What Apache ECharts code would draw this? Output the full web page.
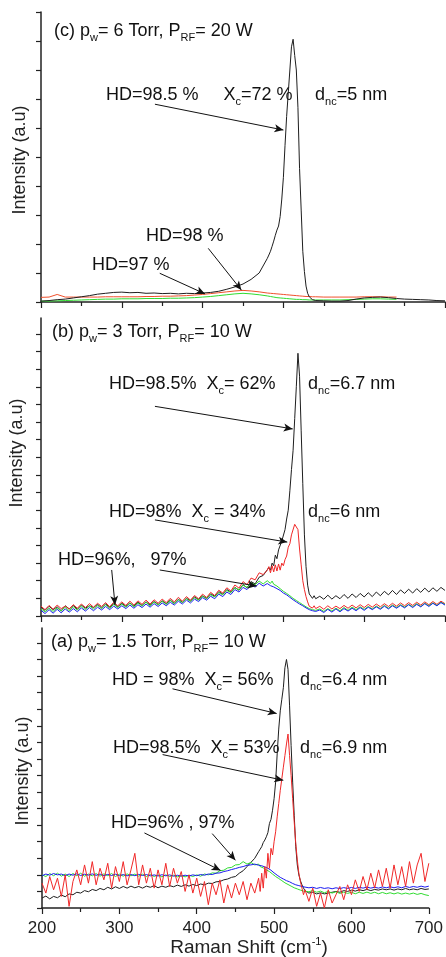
<!DOCTYPE html>
<html>
<head>
<meta charset="utf-8">
<script src="https://cdn.jsdelivr.net/npm/echarts@6/dist/echarts.min.js"></script>
<style>
html, body { margin: 0; padding: 0; background: #fff; }
#chart { width: 446px; height: 957px; }
</style>
</head>
<body>
<div id="chart"></div>
<script>
// Raman shift sampling (cm-1) for panels (b) and (a)
const xAB = [
    200, 205, 210, 215, 220, 225, 230, 235, 240, 245, 250, 255, 260, 265, 270, 275, 280, 285, 290, 295,
    300, 305, 310, 315, 320, 325, 330, 335, 340, 345, 350, 355, 360, 365, 370, 375, 380, 385, 390, 395,
    400, 405, 410, 415, 420, 425, 430, 435, 440, 445, 450, 455, 460, 465, 470, 475, 480,
    482, 484, 486, 488, 490, 492, 494, 496, 498, 500, 502, 504, 506, 508, 510, 512, 514, 516, 518, 520,
    522, 524, 526, 528, 530, 532, 534, 536, 538, 540,
    545, 550, 555, 560, 565, 570, 575, 580, 585, 590, 595, 600, 605, 610, 615, 620, 625, 630, 635, 640,
    645, 650, 655, 660, 665, 670, 675, 680, 685, 690, 695, 700
];
// sampling for panel (c), smoother curves
const xC = [
    200, 210, 220, 230, 240, 250, 260, 270, 280, 290, 300, 310, 320, 330, 340, 350, 360, 370, 380, 390,
    400, 410, 420, 430, 440, 450, 460, 470, 480,
    482, 484, 486, 488, 490, 492, 494, 496, 498, 500, 502, 504, 506, 508, 510, 512, 514, 516, 518, 520,
    522, 524, 526, 528, 530, 532, 534, 536, 538, 540,
    550, 560, 570, 580, 590, 600, 610, 620, 630, 640, 650, 660, 670, 680, 690, 700
];

// (c) pw = 6 Torr
const cBlack = [
    0.03, 0.05, 0.08, 0.10, 0.14, 0.18, 0.22, 0.27, 0.30, 0.33, 0.34, 0.32, 0.33, 0.30, 0.31, 0.29, 0.30, 0.28, 0.30, 0.29,
    0.31, 0.33, 0.37, 0.44, 0.52, 0.62, 0.78, 1.00, 1.50,
    1.62, 1.75, 1.92, 2.10, 2.30, 2.48, 2.62, 2.95, 3.55, 4.30, 5.40, 6.40, 7.20, 8.00, 8.80, 9.06, 8.50, 8.00, 6.70, 4.60,
    3.17, 1.75, 1.05, 0.55, 0.30, 0.18, 0.12, 0.08, 0.06, 0.05,
    0.04, 0.03, 0.03, 0.05, 0.10, 0.14, 0.16, 0.17, 0.15, 0.12, 0.10, 0.09, 0.08, 0.07, 0.05, 0.04
];
const cRed = [
    0.16, 0.17, 0.26, 0.17, 0.17, 0.17, 0.17, 0.17, 0.18, 0.18, 0.18, 0.18, 0.18, 0.19, 0.19, 0.20, 0.20, 0.21, 0.22, 0.24,
    0.26, 0.29, 0.32, 0.35, 0.38, 0.40, 0.38, 0.35, 0.31,
    0.30, 0.30, 0.29, 0.29, 0.28, 0.28, 0.27, 0.27, 0.26, 0.26, 0.25, 0.25, 0.24, 0.24, 0.23, 0.23, 0.22, 0.22, 0.21, 0.21,
    0.20, 0.20, 0.20, 0.19, 0.19, 0.19, 0.18, 0.18, 0.18, 0.18,
    0.17, 0.17, 0.17, 0.17, 0.17, 0.18, 0.18, 0.18, 0.17, 0.17
];
const cGreen = [
    0.03, 0.03, 0.04, 0.05, 0.06, 0.07, 0.08, 0.09, 0.10, 0.10, 0.11, 0.11, 0.11, 0.12, 0.12, 0.12, 0.13, 0.13, 0.14, 0.15,
    0.17, 0.19, 0.22, 0.25, 0.28, 0.30, 0.28, 0.25, 0.21,
    0.20, 0.19, 0.18, 0.17, 0.16, 0.15, 0.15, 0.14, 0.13, 0.13, 0.12, 0.12, 0.11, 0.11, 0.10, 0.10, 0.10, 0.09, 0.09, 0.09,
    0.08, 0.08, 0.08, 0.08, 0.07, 0.07, 0.07, 0.07, 0.07, 0.07,
    0.07, 0.07, 0.07, 0.08, 0.09, 0.10, 0.11, 0.11, 0.10, 0.09
];

// (b) pw = 3 Torr
const bBlack = [
    0.50, 0.32, 0.55, 0.36, 0.52, 0.30, 0.58, 0.40, 0.60, 0.38, 0.62, 0.45, 0.58, 0.48, 0.66, 0.46, 0.68, 0.50, 0.70, 0.52,
    0.72, 0.55, 0.74, 0.56, 0.78, 0.60, 0.80, 0.62, 0.82, 0.66, 0.86, 0.70, 0.90, 0.72, 0.95, 0.78, 1.00, 0.86, 1.08, 0.94,
    1.14, 1.00, 1.26, 1.12, 1.38, 1.24, 1.50, 1.36, 1.62, 1.46, 1.78, 1.60, 1.95, 1.82, 2.20, 2.30, 2.62,
    2.75, 2.60, 3.00, 2.85, 3.45, 3.25, 3.75, 3.70, 4.25, 4.15, 4.90, 5.50, 6.00, 7.10, 8.30, 9.40, 11.2, 13.0, 14.9, 13.6,
    10.5, 7.5, 4.6, 2.8, 1.75, 1.25, 1.20, 1.00, 1.15, 0.98,
    1.12, 0.95, 1.18, 0.96, 1.15, 0.98, 1.22, 1.00, 1.25, 1.05, 1.28, 1.08, 1.32, 1.10, 1.36, 1.15, 1.40, 1.20, 1.45, 1.22,
    1.48, 1.28, 1.52, 1.30, 1.55, 1.34, 1.58, 1.36, 1.60, 1.40, 1.62, 1.45
];
const bRed = [
    0.55, 0.36, 0.60, 0.38, 0.62, 0.42, 0.56, 0.40, 0.64, 0.44, 0.68, 0.48, 0.70, 0.50, 0.72, 0.54, 0.76, 0.52, 0.78, 0.58,
    0.80, 0.60, 0.84, 0.62, 0.86, 0.66, 0.90, 0.68, 0.92, 0.72, 0.96, 0.76, 1.00, 0.80, 1.06, 0.84, 1.10, 0.90, 1.16, 0.98,
    1.24, 1.05, 1.34, 1.16, 1.46, 1.30, 1.60, 1.42, 1.76, 1.58, 1.95, 1.78, 2.15, 2.05, 2.45, 2.35, 2.60,
    2.80, 2.45, 2.85, 2.50, 2.90, 2.55, 2.95, 2.60, 3.00, 2.85, 3.20, 3.40, 3.90, 4.10, 4.60, 4.70, 5.20, 5.30, 4.90, 3.80,
    2.90, 2.00, 1.50, 1.10, 0.80, 0.55, 0.62, 0.45, 0.58, 0.42,
    0.55, 0.38, 0.58, 0.40, 0.56, 0.42, 0.60, 0.44, 0.62, 0.46, 0.64, 0.48, 0.66, 0.50, 0.68, 0.52, 0.70, 0.54, 0.72, 0.56,
    0.74, 0.58, 0.76, 0.60, 0.78, 0.62, 0.80, 0.64, 0.82, 0.66, 0.84, 0.70
];
const bGreen = [
    0.40, 0.24, 0.44, 0.26, 0.46, 0.28, 0.50, 0.30, 0.52, 0.34, 0.56, 0.36, 0.58, 0.40, 0.60, 0.42, 0.64, 0.44, 0.66, 0.48,
    0.68, 0.50, 0.72, 0.52, 0.74, 0.56, 0.78, 0.58, 0.80, 0.62, 0.84, 0.66, 0.88, 0.70, 0.92, 0.76, 0.98, 0.82, 1.04, 0.90,
    1.12, 0.98, 1.20, 1.08, 1.32, 1.20, 1.45, 1.32, 1.60, 1.48, 1.75, 1.62, 1.88, 1.78, 1.98, 1.82, 2.00,
    2.00, 1.85, 1.98, 1.80, 1.88, 1.70, 1.72, 1.55, 1.60, 1.40, 1.45, 1.28, 1.32, 1.15, 1.18, 1.00, 1.05, 0.88, 0.92, 0.76,
    0.80, 0.64, 0.68, 0.52, 0.58, 0.42, 0.48, 0.36, 0.42, 0.32,
    0.40, 0.26, 0.42, 0.28, 0.44, 0.30, 0.48, 0.32, 0.50, 0.36, 0.52, 0.38, 0.54, 0.40, 0.56, 0.42, 0.60, 0.44, 0.62, 0.48,
    0.64, 0.50, 0.66, 0.52, 0.70, 0.54, 0.72, 0.58, 0.74, 0.60, 0.78, 0.66
];
const bBlue = [
    0.32, 0.14, 0.36, 0.16, 0.38, 0.18, 0.40, 0.22, 0.42, 0.24, 0.46, 0.28, 0.48, 0.30, 0.50, 0.34, 0.54, 0.36, 0.56, 0.40,
    0.58, 0.42, 0.62, 0.44, 0.64, 0.48, 0.68, 0.50, 0.70, 0.54, 0.74, 0.58, 0.78, 0.62, 0.84, 0.68, 0.90, 0.74, 0.96, 0.82,
    1.04, 0.90, 1.12, 0.98, 1.24, 1.10, 1.36, 1.22, 1.50, 1.36, 1.62, 1.50, 1.76, 1.64, 1.86, 1.70, 1.84,
    1.85, 1.72, 1.82, 1.65, 1.72, 1.55, 1.60, 1.45, 1.48, 1.30, 1.36, 1.20, 1.24, 1.06, 1.10, 0.92, 0.98, 0.80, 0.86, 0.68,
    0.74, 0.58, 0.62, 0.46, 0.52, 0.36, 0.42, 0.30, 0.36, 0.26,
    0.34, 0.20, 0.38, 0.22, 0.40, 0.24, 0.42, 0.28, 0.44, 0.30, 0.48, 0.32, 0.50, 0.36, 0.52, 0.38, 0.56, 0.40, 0.58, 0.44,
    0.60, 0.46, 0.64, 0.48, 0.66, 0.52, 0.70, 0.54, 0.72, 0.58, 0.76, 0.62
];

// (a) pw = 1.5 Torr
const aBlack = [
    0.60, 0.72, 0.55, 0.70, 0.62, 0.78, 0.68, 0.85, 0.80, 0.95, 0.90, 1.05, 0.98, 1.12, 1.05, 1.18, 1.10, 1.25, 1.15, 1.28,
    1.18, 1.30, 1.20, 1.32, 1.22, 1.30, 1.20, 1.32, 1.25, 1.35, 1.22, 1.32, 1.25, 1.35, 1.28, 1.38, 1.30, 1.40, 1.32, 1.42,
    1.35, 1.45, 1.40, 1.50, 1.48, 1.58, 1.60, 1.70, 1.75, 1.85, 1.90, 2.10, 2.25, 2.50, 2.75, 3.00, 3.40,
    3.55, 3.70, 3.95, 4.10, 4.30, 4.55, 5.10, 5.35, 5.90, 6.60, 7.60, 9.30, 10.8, 11.9, 12.6, 13.3, 14.5, 15.0, 14.4, 12.2,
    9.8, 7.6, 5.6, 3.7, 2.6, 2.0, 1.65, 1.40, 1.20, 1.05,
    0.90, 0.95, 0.85, 0.92, 0.85, 0.90, 0.95, 1.00, 0.95, 1.05, 1.00, 1.08, 1.02, 1.10, 1.05, 1.12, 1.05, 1.12, 1.08, 1.15,
    1.10, 1.15, 1.08, 1.15, 1.10, 1.18, 1.10, 1.15, 1.10, 1.18, 1.12, 1.15
];
const aGreen = [
    2.00, 1.90, 2.08, 1.95, 2.10, 1.92, 2.05, 1.90, 2.08, 1.95, 2.10, 1.92, 2.05, 1.94, 2.08, 1.92, 2.06, 1.95, 2.08, 1.90,
    2.04, 1.92, 2.06, 1.94, 2.05, 1.92, 2.04, 1.90, 2.02, 1.90, 2.00, 1.88, 2.00, 1.90, 1.98, 1.88, 1.96, 1.88, 1.98, 1.90,
    2.00, 1.92, 2.05, 2.00, 2.12, 2.10, 2.25, 2.28, 2.42, 2.45, 2.60, 2.62, 2.80, 2.65, 2.75, 2.60, 2.65,
    2.50, 2.55, 2.42, 2.45, 2.30, 2.32, 2.20, 2.15, 2.05, 1.98, 1.90, 1.85, 1.78, 1.72, 1.65, 1.60, 1.52, 1.48, 1.42, 1.38,
    1.32, 1.28, 1.22, 1.18, 1.15, 1.10, 1.08, 1.05, 1.02, 1.00,
    0.98, 1.05, 0.95, 1.02, 0.92, 1.00, 0.90, 0.98, 0.88, 0.96, 0.88, 0.95, 0.86, 0.95, 0.88, 0.96, 0.88, 0.95, 0.86, 0.94,
    0.86, 0.92, 0.85, 0.92, 0.84, 0.90, 0.84, 0.90, 0.82, 0.88, 0.80, 0.75
];
const aBlue = [
    1.95, 2.05, 1.98, 2.08, 2.00, 2.05, 1.95, 2.05, 1.98, 2.06, 1.96, 2.04, 1.98, 2.06, 1.97, 2.05, 1.95, 2.03, 1.96, 2.04,
    1.95, 2.02, 1.94, 2.02, 1.95, 2.03, 1.96, 2.02, 1.94, 2.00, 1.93, 2.01, 1.94, 2.00, 1.92, 1.98, 1.92, 1.98, 1.93, 2.00,
    1.95, 2.02, 1.98, 2.05, 2.02, 2.10, 2.12, 2.20, 2.25, 2.32, 2.38, 2.45, 2.50, 2.58, 2.60, 2.65, 2.58,
    2.62, 2.55, 2.58, 2.48, 2.50, 2.40, 2.38, 2.28, 2.22, 2.12, 2.05, 1.98, 1.92, 1.85, 1.80, 1.75, 1.70, 1.65, 1.62, 1.58,
    1.52, 1.48, 1.45, 1.40, 1.38, 1.35, 1.32, 1.30, 1.28, 1.26,
    1.22, 1.25, 1.18, 1.24, 1.18, 1.22, 1.16, 1.22, 1.17, 1.23, 1.18, 1.24, 1.18, 1.25, 1.20, 1.26, 1.20, 1.25, 1.20, 1.27,
    1.22, 1.28, 1.22, 1.28, 1.22, 1.30, 1.24, 1.30, 1.25, 1.32, 1.26, 1.32
];
const aRed = [
    1.50, 0.90, 1.90, 1.10, 1.80, 0.70, 2.00, 0.10, 1.60, 2.30, 1.40, 2.60, 1.50, 2.80, 1.40, 2.40, 1.70, 2.70, 1.20, 2.50,
    1.60, 2.80, 1.40, 2.30, 3.30, 1.40, 2.60, 1.50, 2.40, 1.20, 2.30, 1.40, 2.70, 1.30, 2.40, 1.50, 2.20, 1.00, 2.00, 0.90,
    1.80, 0.70, 1.60, 0.20, 1.50, 0.80, 1.70, 0.30, 1.40, 0.60, 1.50, 0.80, 1.60, 0.50, 1.50, 0.90, 1.80,
    1.00, 2.10, 1.20, 2.50, 1.80, 3.30, 2.40, 3.60, 3.20, 4.00, 4.60, 5.50, 6.30, 7.10, 7.80, 8.50, 9.20, 9.90, 10.5, 9.20,
    8.00, 6.60, 5.20, 3.90, 2.90, 2.10, 1.60, 1.20, 0.80, 1.10,
    0.40, 1.20, 0.10, 0.90, 0.00, 1.10, 0.30, 0.80, 1.30, 0.50, 1.40, 0.80, 1.70, 1.00, 1.90, 1.10, 2.10, 1.20, 2.30, 1.30,
    2.40, 1.20, 2.60, 1.40, 2.50, 1.30, 2.80, 1.50, 2.60, 3.30, 1.60, 2.70
];

// annotation arrows, data coords [x1, y1, x2, y2]
const cArrows = [[341, 6.82, 500, 5.93], [407, 1.85, 448, 0.41], [347, 0.99, 403, 0.28]];
const bArrows = [[341, 11.89, 511.5, 10.61], [341, 5.45, 504.8, 4.19], [287.5, 2.61, 291.6, 0.63], [347, 2.61, 467, 1.70]];
const aArrows = [[368.7, 13.23, 503.3, 11.74], [355.9, 9.26, 511.9, 7.71], [332.4, 4.53, 430.8, 2.27], [420, 4.49, 450, 2.88]];

const FONT = 'Liberation Sans, Arial, sans-serif';
const BLACK = '#1e1e1e', RED = '#f02828', GREEN = '#30dc30', BLUE = '#1c1cf0';

function pairs(xs, ys) {
    return ys.map((y, i) => [xs[i], y]);
}

function arrowLines(list) {
    return {
        silent: true,
        animation: false,
        symbol: ['none', 'arrow'],
        symbolSize: [6, 9],
        label: { show: false },
        lineStyle: { color: '#111', width: 1, type: 'solid' },
        data: list.map(a => [{ coord: [a[0], a[1]] }, { coord: [a[2], a[3]] }])
    };
}

function spectrum(idx, xs, ys, color, arrows) {
    const s = {
        type: 'line',
        xAxisIndex: idx,
        yAxisIndex: idx,
        data: pairs(xs, ys),
        symbol: 'none',
        lineStyle: { color: color, width: 1 },
        itemStyle: { color: color },
        silent: true
    };
    if (arrows) s.markLine = arrowLines(arrows);
    return s;
}

function xAxis(idx, labels) {
    return {
        type: 'value',
        gridIndex: idx,
        min: 200,
        max: 700,
        interval: 100,
        axisLine: { onZero: false, lineStyle: { color: '#222', width: 1.5 } },
        axisTick: { length: 6, lineStyle: { color: '#222', width: 1.2 } },
        minorTick: { show: true, splitNumber: 2, length: 4, lineStyle: { color: '#222', width: 1.2 } },
        splitLine: { show: false },
        axisLabel: { show: labels, fontSize: 17, color: '#222', fontFamily: FONT, margin: 12 }
    };
}

function yAxis(idx, max, ticks) {
    return {
        type: 'value',
        gridIndex: idx,
        min: 0,
        max: max,
        interval: 1,
        axisLine: { show: true, onZero: false, lineStyle: { color: '#222', width: 1.5 } },
        axisTick: { show: true, length: 5, customValues: ticks, lineStyle: { color: '#222', width: 1.2 } },
        axisLabel: { show: false },
        splitLine: { show: false }
    };
}

const yTicksTall = [0, 1, 2, 3, 4, 5, 6, 7, 8, 9, 10, 11, 12, 13, 14, 15, 16];

// text labels: [left, centerY, text]
const notes = [
    [54, 31, '(c) p{s|w}= 6 Torr, P{s|RF}= 20 W'],
    [106, 95, 'HD=98.5 %     X{s|c}=72 %'],
    [315, 95, 'd{s|nc}=5 nm'],
    [146, 236, 'HD=98 %'],
    [92, 265, 'HD=97 %'],
    [52, 332, '(b) p{s|w}= 3 Torr, P{s|RF}= 10 W'],
    [109, 384, 'HD=98.5%  X{s|c}= 62%'],
    [308, 384, 'd{s|nc}=6.7 nm'],
    [109, 512, 'HD=98%  X{s|c} = 34%'],
    [308, 512, 'd{s|nc}=6 nm'],
    [58, 560, 'HD=96%,   97%'],
    [51, 642, '(a) p{s|w}= 1.5 Torr, P{s|RF}= 10 W'],
    [112, 680, 'HD = 98%  X{s|c}= 56%'],
    [300, 680, 'd{s|nc}=6.4 nm'],
    [113, 748, 'HD=98.5%  X{s|c}= 53%'],
    [300, 748, 'd{s|nc}=6.9 nm'],
    [111, 823, 'HD=96% , 97%']
];
const rich = {
    s: { fontSize: 11, fontFamily: FONT, fill: '#111', padding: [13, 0, 0, 0] },
    u: { fontSize: 11, fontFamily: FONT, fill: '#111', padding: [0, 0, 12, 0] }
};

const graphic = notes.map(n => ({
    type: 'text',
    x: n[0],
    y: n[1],
    silent: true,
    style: { text: n[2], rich: rich, fill: '#111', fontSize: 18, fontFamily: FONT, verticalAlign: 'middle' }
}));
[[20, 160], [17, 453], [23, 771]].forEach(p => {
    graphic.push({
        type: 'text',
        x: p[0],
        y: p[1],
        rotation: Math.PI / 2,
        silent: true,
        style: { text: 'Intensity (a.u)', fill: '#222', fontSize: 18, fontFamily: FONT, align: 'center', verticalAlign: 'middle' }
    });
});
graphic.push({
    type: 'text',
    x: 249,
    y: 948,
    silent: true,
    style: { text: 'Raman Shift (cm{u|-1})', rich: rich, fill: '#222', fontSize: 19, fontFamily: FONT, align: 'center', verticalAlign: 'middle' }
});

const chart = echarts.init(document.getElementById('chart'));
chart.setOption({
    animation: false,
    backgroundColor: '#fff',
    grid: [
        { left: 41, top: 12, width: 404, height: 290 },
        { left: 41, top: 318, width: 404, height: 298 },
        { left: 42, top: 628, width: 390, height: 280 }
    ],
    xAxis: [xAxis(0, false), xAxis(1, false), xAxis(2, true)],
    yAxis: [yAxis(0, 10), yAxis(1, 16.9, yTicksTall), yAxis(2, 16.9, yTicksTall)],
    series: [
        spectrum(0, xC, cGreen, GREEN),
        spectrum(0, xC, cRed, '#f0502c'),
        spectrum(0, xC, cBlack, BLACK, cArrows),
        spectrum(1, xAB, bBlack, BLACK, bArrows),
        spectrum(1, xAB, bRed, RED),
        spectrum(1, xAB, bGreen, GREEN),
        spectrum(1, xAB, bBlue, BLUE),
        spectrum(2, xAB, aBlack, BLACK, aArrows),
        spectrum(2, xAB, aGreen, GREEN),
        spectrum(2, xAB, aBlue, BLUE),
        spectrum(2, xAB, aRed, RED)
    ],
    graphic: graphic
});
</script>
</body>
</html>
